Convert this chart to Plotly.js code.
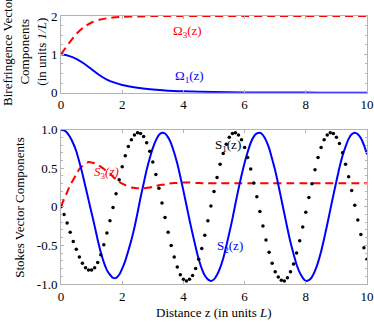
<!DOCTYPE html>
<html>
<head>
<meta charset="utf-8">
<script src="https://cdn.plot.ly/plotly-3.0.1.min.js"></script>
<style>
  html, body { margin: 0; padding: 0; background: #fff; }
  #chart { width: 374px; height: 323px; }
</style>
</head>
<body>
<div id="chart"></div>
<script>
// birefringence components
var omegaZ = [0, 0.25, 0.5, 0.75, 1, 1.25, 1.5, 1.75, 2, 2.5, 3, 3.5, 4, 5, 6, 7, 8, 9, 10];
var omega1 = [1.0, 0.96, 0.88, 0.76, 0.61, 0.46, 0.34, 0.26, 0.20, 0.13, 0.08, 0.05, 0.035, 0.015, 0.007, 0.003, 0.001, 0, 0];
var omega3 = [1.0, 1.28, 1.53, 1.71, 1.83, 1.90, 1.94, 1.965, 1.98, 1.99, 2.0, 2.0, 2.0, 2.0, 2.0, 2.0, 2.0, 2.0, 2.0];

// Stokes components, sampled every 0.1 L
var distance = [];
for (var i = 0; i <= 100; i++) distance.push(i / 10);

var s1 = [0, -0.10, -0.21, -0.33, -0.45, -0.55, -0.65, -0.73, -0.79, -0.82,
  -0.82, -0.79, -0.72, -0.62, -0.49, -0.34, -0.18, -0.01, 0.17, 0.35,
  0.52, 0.66, 0.78, 0.87, 0.93, 0.96, 0.95, 0.91, 0.83, 0.72,
  0.58, 0.42, 0.24, 0.05, -0.14, -0.33, -0.50, -0.65, -0.78, -0.88,
  -0.94, -0.96, -0.94, -0.89, -0.80, -0.68, -0.54, -0.37, -0.18, 0.01,
  0.20, 0.38, 0.55, 0.69, 0.81, 0.90, 0.95, 0.96, 0.93, 0.87,
  0.77, 0.64, 0.49, 0.31, 0.13, -0.06, -0.25, -0.43, -0.59, -0.73,
  -0.84, -0.91, -0.95, -0.96, -0.92, -0.84, -0.74, -0.60, -0.44, -0.26,
  -0.07, 0.12, 0.30, 0.48, 0.64, 0.77, 0.87, 0.93, 0.96, 0.95,
  0.90, 0.82, 0.70, 0.55, 0.39, 0.21, 0.02, -0.17, -0.36, -0.53,
  -0.68];

var s2 = [1.00, 0.99, 0.96, 0.90, 0.82, 0.72, 0.58, 0.43, 0.26, 0.09,
  -0.08, -0.25, -0.43, -0.59, -0.72, -0.82, -0.88, -0.92, -0.92, -0.88,
  -0.80, -0.70, -0.57, -0.43, -0.27, -0.08, 0.12, 0.30, 0.48, 0.63,
  0.76, 0.86, 0.93, 0.96, 0.95, 0.90, 0.82, 0.70, 0.56, 0.39,
  0.21, 0.02, -0.17, -0.35, -0.52, -0.68, -0.80, -0.89, -0.94, -0.96,
  -0.94, -0.88, -0.79, -0.67, -0.51, -0.34, -0.16, 0.04, 0.23, 0.41,
  0.57, 0.71, 0.83, 0.91, 0.95, 0.96, 0.93, 0.86, 0.76, 0.62,
  0.47, 0.29, 0.10, -0.09, -0.28, -0.46, -0.61, -0.75, -0.85, -0.92,
  -0.96, -0.95, -0.91, -0.83, -0.72, -0.58, -0.41, -0.23, -0.04, 0.15,
  0.33, 0.51, 0.66, 0.78, 0.88, 0.94, 0.96, 0.94, 0.89, 0.80,
  0.68];

var s3 = [0, 0.10, 0.19, 0.28, 0.35, 0.42, 0.49, 0.53, 0.56, 0.58,
  0.575, 0.565, 0.545, 0.52, 0.49, 0.46, 0.43, 0.39, 0.355, 0.325,
  0.30, 0.28, 0.265, 0.25, 0.245, 0.24, 0.24, 0.24, 0.245, 0.25,
  0.26, 0.27, 0.28, 0.285, 0.29, 0.30, 0.305, 0.31, 0.31, 0.315,
  0.315, 0.315, 0.315, 0.31, 0.31, 0.31, 0.305, 0.305, 0.305, 0.305,
  0.305, 0.305, 0.305, 0.305, 0.305, 0.305, 0.305, 0.305, 0.305, 0.305,
  0.305, 0.305, 0.305, 0.305, 0.305, 0.305, 0.305, 0.305, 0.305, 0.305,
  0.305, 0.305, 0.305, 0.305, 0.305, 0.305, 0.305, 0.305, 0.305, 0.305,
  0.305, 0.305, 0.305, 0.305, 0.305, 0.305, 0.305, 0.305, 0.305, 0.305,
  0.305, 0.305, 0.305, 0.305, 0.305, 0.305, 0.305, 0.305, 0.305, 0.305,
  0.305];

var xTicks = [0, 2, 4, 6, 8, 10];
var topTicks = [0, 1, 2];
var bottomTicks = [-1, -0.5, 0, 0.5, 1];
var bottomTickText = ['-1.0', '-0.5', '0', '0.5', '1.0'];

var serif = 'Liberation Serif, Times New Roman, serif';
var frame = '#b4b4b4';

var traces = [
  { x: omegaZ, y: omega3, type: 'scatter', mode: 'lines', xaxis: 'x', yaxis: 'y',
    line: { color: '#ff0000', width: 2, dash: '8px,5px', shape: 'spline', smoothing: 0.8 } },
  { x: omegaZ, y: omega1, type: 'scatter', mode: 'lines', xaxis: 'x', yaxis: 'y',
    line: { color: '#0000ff', width: 2, shape: 'spline', smoothing: 0.8 } },
  { x: distance, y: s3, type: 'scatter', mode: 'lines', xaxis: 'x2', yaxis: 'y2',
    line: { color: '#ff0000', width: 2, dash: '8px,5px', shape: 'spline', smoothing: 0.5 } },
  { x: distance, y: s2, type: 'scatter', mode: 'lines', xaxis: 'x2', yaxis: 'y2',
    line: { color: '#0000ff', width: 2, shape: 'spline', smoothing: 0.5 } },
  { x: distance, y: s1, type: 'scatter', mode: 'markers', xaxis: 'x2', yaxis: 'y2',
    marker: { color: '#000000', size: 3.5 } }
];

function axis(extra) {
  var a = {
    showgrid: false, zeroline: false,
    showline: true, linecolor: frame, linewidth: 1, mirror: 'ticks',
    ticks: 'inside', ticklen: 3, tickcolor: frame,
    tickfont: { family: serif, size: 13, color: '#000' }
  };
  for (var k in extra) a[k] = extra[k];
  return a;
}

var layout = {
  width: 374, height: 323,
  margin: { l: 61, r: 7, t: 16, b: 39 },
  paper_bgcolor: '#fff', plot_bgcolor: '#fff',
  showlegend: false,
  font: { family: serif, size: 13, color: '#000' },
  xaxis: axis({ domain: [0, 1], range: [0, 10], anchor: 'y', tickvals: xTicks }),
  yaxis: axis({ domain: [0.714, 1], range: [0, 2], anchor: 'x', tickvals: topTicks,
    minor: { ticks: 'inside', ticklen: 2, dtick: 0.25, tickcolor: frame } }),
  xaxis2: axis({ domain: [0, 1], range: [0, 10], anchor: 'y2', tickvals: xTicks }),
  yaxis2: axis({ domain: [0, 0.576], range: [-1, 1], anchor: 'x2',
    tickvals: bottomTicks, ticktext: bottomTickText,
    minor: { ticks: 'inside', ticklen: 2, dtick: 0.1, tickcolor: frame } }),
  annotations: [
    { text: 'Birefringence Vector<br>Components<br>(in units <i>1/L</i>)', xref: 'paper', yref: 'paper',
      x: -0.1176, y: 0.866, xanchor: 'center', yanchor: 'middle', textangle: -90, showarrow: false,
      font: { family: serif, size: 13, color: '#000' } },
    { text: 'Stokes Vector Components', xref: 'paper', yref: 'paper',
      x: -0.134, y: 0.288, xanchor: 'center', yanchor: 'middle', textangle: -90, showarrow: false,
      font: { family: serif, size: 13, color: '#000' } },
    { text: 'Distance z (in units <i>L</i>)', xref: 'paper', yref: 'paper',
      x: 0.5, y: -0.1045, xanchor: 'center', yanchor: 'middle', showarrow: false,
      font: { family: serif, size: 13, color: '#000' } },
    { text: 'Ω<sub>3</sub>(z)', xref: 'x', yref: 'y', x: 4.15, y: 1.6, showarrow: false,
      font: { family: serif, size: 13, color: '#ff0000' } },
    { text: 'Ω<sub>1</sub>(z)', xref: 'x', yref: 'y', x: 4.2, y: 0.41, showarrow: false,
      font: { family: serif, size: 13, color: '#0000ff' } },
    { text: '<i>S</i><sub>3</sub><i>(z)</i>', xref: 'x2', yref: 'y2', x: 1.49, y: 0.45, showarrow: false,
      font: { family: serif, size: 13, color: '#ff0000' } },
    { text: 'S<sub>1</sub>(z)', xref: 'x2', yref: 'y2', x: 5.46, y: 0.79, showarrow: false,
      font: { family: serif, size: 13, color: '#000000' } },
    { text: 'S<sub>2</sub>(z)', xref: 'x2', yref: 'y2', x: 5.52, y: -0.51, showarrow: false,
      font: { family: serif, size: 13, color: '#0000ff' } }
  ]
};

Plotly.newPlot('chart', traces, layout, { displayModeBar: false, staticPlot: true });
</script>
</body>
</html>
